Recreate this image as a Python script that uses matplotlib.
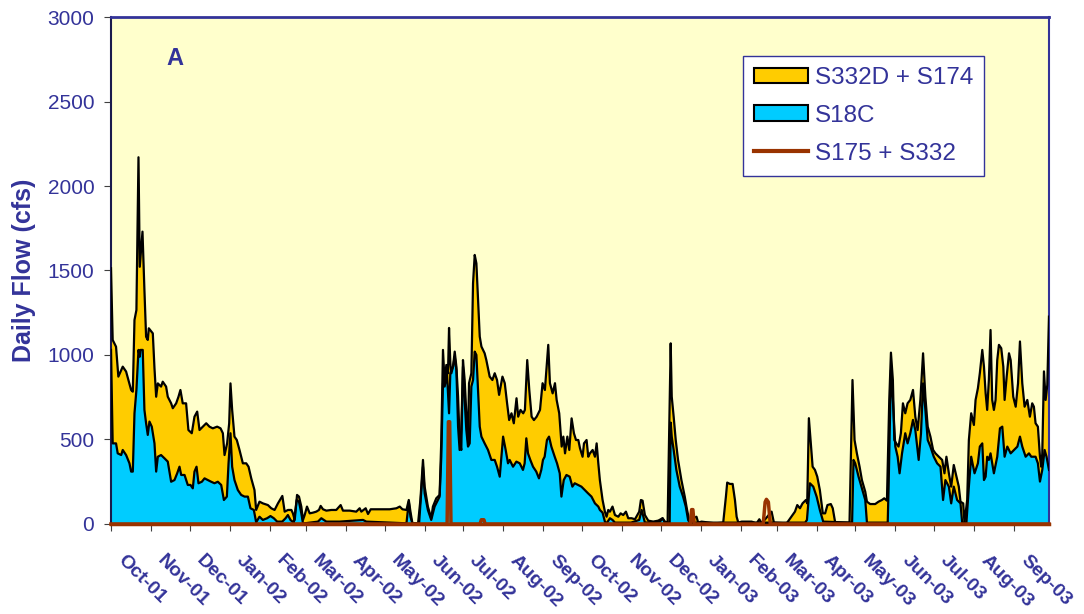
import numpy as np
import pandas as pd
import matplotlib
matplotlib.use("Agg")
import matplotlib.pyplot as plt
from matplotlib.patches import Patch
from matplotlib.lines import Line2D
from matplotlib.transforms import ScaledTranslation

plt.rcParams['font.family'] = ['Liberation Sans', 'DejaVu Sans']

# days counted from 1 Oct 2001, flows in cfs
top_day = [0, 1.3, 3.9, 5.7, 9.1, 11.7, 15.6, 16.9, 18.2, 19.7, 21.3, 22.3, 23.3, 24.4, 25.9, 27.2,
           28.5, 29.3, 32.4, 33.7, 35, 36.3, 38.8, 40.1, 42.7, 44, 46.6, 47.9, 50.5, 52.3, 53.8,
           55.6, 58.2, 60, 62.6, 64.7, 66.8, 68.6, 71.2, 73.8, 76.3, 78.9, 82.3, 84.9, 86.7, 88,
           90, 91.6, 92.6, 93.9, 95.7, 97.5, 99.6, 102.2, 104.8, 106.6, 108.7, 111.2, 112.5,
           115.1, 117.7, 121.6, 124.2, 126.8, 129.4, 132.8, 134.6, 137.2, 139.8, 141, 142.4,
           144.2, 145.7, 147.5, 148.8, 150.1, 151.9, 154, 156.5, 159.1, 161.2, 162.5, 164.3,
           166.9, 170.8, 174.6, 178, 179.8, 185, 190.1, 192.7, 194, 197.4, 199.2, 201.3, 204.4,
           210.9, 216, 221.2, 223.8, 225.9, 229, 230.8, 232.1, 233.6, 238, 239.8, 241.8, 243.1,
           245.6, 248.2, 249.5, 252.1, 254.7, 256, 257.3, 258.6, 259.9, 261.2, 262, 263, 263.8,
           265.1, 266.4, 267.7, 269, 270.2, 271.5, 272.8, 274.1, 275.4, 276.7, 277.5, 279.3,
           280.6, 281.9, 283.2, 284.5, 285.8, 287.1, 289.6, 290.9, 293.5, 295.6, 297.4, 299.2,
           300.8, 303.4, 305.2, 307, 308.6, 310.4, 312.2, 314.3, 315.6, 317.4, 319.5, 320.8,
           322.6, 324.2, 326, 327.8, 329.9, 332.5, 334.5, 336.3, 337.6, 338.9, 340.2, 342.3,
           344.1, 345.4, 347.4, 349.3, 350.6, 351.9, 353.7, 355.2, 357, 358.8, 360.4, 362.2,
           363.5, 365.5, 366.6, 368.6, 369.9, 371.2, 373.3, 375.1, 376.4, 377.7, 378.9, 381,
           382.8, 384.1, 385.4, 386.7, 388.7, 390.6, 393.2, 395, 397, 399.1, 400.9, 403.5, 406.1,
           409.4, 410.7, 412, 413.8, 416.4, 420.3, 424.2, 427.5, 429.3, 431.4, 433.8, 434.6,
           436.1, 437.7, 439.5, 442.1, 444.7, 446.5, 448.1, 453.8, 455.1, 457.7, 464.1, 468,
           474.5, 476.6, 477.6, 479.7, 481.8, 483.6, 484.9, 486.2, 488.8, 492.6, 496.5, 500.4,
           502.5, 504.3, 512, 513.8, 523.7, 530.1, 531.9, 534, 536, 538.6, 539.6, 540.9, 542.2,
           543.8, 545.6, 547.4, 549.4, 551.7, 553.5, 555.3, 557.9, 559.4, 561.3, 572.4, 574.7,
           576.3, 578.1, 580.2, 582, 584.6, 585.9, 588.4, 592.3, 594.9, 597.5, 599.3, 601.4,
           603.2, 604.5, 606, 607.1, 608.6, 610.4, 612.2, 613.8, 615.6, 617.4, 619.5, 621.6,
           623.4, 625.2, 627.3, 629.4, 631.2, 633, 635.1, 637.2, 639, 641.6, 644.2, 646, 647.5,
           649.4, 651.2, 653.2, 655.3, 657.1, 658.4, 660.5, 661.5, 663.6, 664.9, 666.7, 668.8,
           670.1, 671.9, 673.4, 675.3, 676.6, 677.9, 679.1, 680.4, 681.7, 683, 684.3, 685.6,
           686.9, 688.2, 690, 691.6, 692.6, 694.2, 696, 697.3, 699.3, 701.2, 703, 704.5, 706.3,
           708.1, 710.2, 712.2, 714, 715.3, 716.6, 718.4, 720, 721, 721.8, 723.1, 724.4, 725.7,
           727]
top_cfs = [1513, 1089, 1049, 872, 931, 902, 793, 783, 1207, 1266, 2170, 1522, 1621, 1730, 1385, 1108,
           1089, 1158, 1128, 921, 753, 832, 813, 842, 813, 753, 714, 685, 714, 753, 793,
           714, 714, 556, 537, 635, 665, 556, 576, 596, 576, 566, 576, 566, 537, 408,
           477, 596, 832, 675, 517, 497, 438, 359, 359, 339, 270, 201, 83,
           132, 122, 112, 93, 83, 122, 166, 73, 83, 83, 63, 24,
           172, 162, 103, 24, 53, 103, 63, 67, 73, 83, 107, 87,
           79, 83, 83, 112, 79, 79, 73, 93, 73, 93, 59, 87, 87,
           87, 87, 93, 103, 87, 83, 142, 73, 4, 4, 142, 379, 221,
           103, 34, 103, 152, 172, 497, 1030, 833, 941, 892, 1160, 951, 892,
           931, 1020, 931, 753, 497, 438, 970, 852, 655, 497, 833, 892,
           1424, 1592, 1542, 1326, 1109, 1050, 1010, 970, 872, 852, 892, 852,
           764, 872, 833, 714, 615, 655, 596, 744, 635, 675, 655, 675,
           970, 793, 635, 615, 635, 675, 833, 793, 931, 1060, 833, 773,
           833, 734, 655, 458, 517, 418, 517, 438, 625, 537, 497, 497,
           448, 398, 477, 497, 398, 418, 438, 398, 477, 359, 260, 142,
           73, 43, 83, 73, 103, 53, 43, 63, 53, 73, 34, 34, 28,
           73, 142, 138, 53, 20, 14, 20, 34, 14, 8, 1069, 754,
           635, 497, 379, 260, 162, 83, 24, 43, 8, 14, 8, 4,
           8, 162, 245, 237, 237, 142, 43, 8, 14, 14, 14, 4,
           28, 4, 73, 8, 4, 73, 112, 93, 122, 142, 122, 626, 497,
           339, 320, 280, 201, 63, 63, 112, 118, 93, 8, 8, 852,
           497, 418, 339, 260, 191, 132, 118, 118, 132, 142, 152, 138,
           734, 1014, 852, 497, 477, 458, 537, 714, 655, 714, 734, 793,
           635, 556, 734, 1010, 753, 576, 517, 438, 418, 398, 379, 300, 398,
           300, 221, 349, 280, 221, 132, 122, 8, 142, 497, 655, 586,
           734, 803, 892, 1030, 931, 773, 675, 852, 1148, 734, 675, 734,
           970, 1060, 1040, 931, 734, 872, 1010, 970, 753, 694, 832, 1080, 832,
           694, 734, 635, 714, 694, 596, 576, 398, 339, 418, 903, 734, 823,
           1227]

s18c_day = [0, 1.3, 3.9, 5.2, 7.9, 9.1, 11.7, 14.3, 15.6, 16.9, 18.2, 19.7, 21.3, 22.3, 22.8, 24.6,
            25.9, 27.2, 28.5, 29.8, 31.6, 33.7, 35, 36.3, 38.8, 41.4, 44, 46.6, 49.2, 51.3, 53.1,
            54.4, 57, 59.5, 61.6, 63.4, 64.7, 66.3, 67.8, 70.4, 72.5, 75, 77.6, 80.2, 82.8, 85.4,
            87.5, 89.8, 91.1, 92.6, 93.9, 95.7, 98.3, 100.9, 103.5, 106.1, 108.1, 110.7, 112.5,
            115.1, 117.7, 121, 123.6, 126.2, 128.8, 132.7, 135.3, 137.1, 139.1, 141.7, 143.9,
            145.7, 147.5, 148.8, 150.1, 160.4, 163, 166.9, 177.2, 195.3, 197.9, 229, 230.8, 232.1,
            233.6, 238.8, 241.8, 243.1, 245.6, 248.2, 250.8, 254.7, 256, 257.3, 258.6, 260.4,
            262, 263, 265.1, 266.4, 267.7, 269, 270.2, 271.5, 272.8, 274.1, 275.4, 276.7, 278,
            279.3, 280.6, 281.9, 283.2, 284.5, 285.8, 287.1, 289.6, 292.2, 294.8, 297.4, 299.2,
            301.3, 303.9, 305.9, 307.7, 309, 311.6, 314.2, 316.8, 319.3, 320.6, 321.9, 323.2,
            325, 327.1, 329.6, 331.7, 333.5, 334.8, 336.1, 337.9, 339.5, 341.3, 343.9, 345.7,
            347.8, 349.1, 350.9, 353, 355.5, 357.6, 359.4, 362, 364.6, 367.2, 369.8, 372.4,
            375.1, 377.7, 378.9, 381, 382.8, 384.1, 386.7, 388.7, 390.6, 403, 409.4, 411.3,
            412.6, 413.8, 425.5, 427.5, 429.3, 433, 433.8, 434.6, 436.1, 438.2, 440.8, 443.4,
            445.5, 447.3, 448.5, 538, 539.4, 541.7, 544.3, 546.9, 549.4, 552, 574.4, 575.5,
            576.8, 579.4, 582, 584.6, 585.9, 602, 602.7, 604.5, 606, 607.9, 609.7, 611.2, 613.1,
            615.6, 617.4, 619.5, 621.6, 623.4, 626, 627.8, 629.4, 631.2, 633, 635.1, 637.7,
            640.3, 642.9, 644.9, 646.7, 649.4, 651.2, 653.2, 655.8, 658.4, 659.7, 663, 664.9,
            666.7, 669.3, 671.9, 673.4, 675.3, 676.6, 677.9, 679.1, 680.4, 681.7, 684.3, 686.9,
            689, 690.8, 692.6, 694.7, 697.3, 699.9, 702.5, 704.5, 706.3, 708.9, 711.5, 713.3,
            716.6, 718.4, 720, 721.8, 723.6, 725.1, 727]
s18c_cfs = [1030, 477, 477, 418, 408, 438, 408, 359, 310, 310, 655, 793, 1030, 990, 1030, 1030,
            675, 596, 527, 606, 576, 477, 310, 398, 408, 389, 369, 250, 260, 300, 339,
            290, 290, 231, 231, 211, 310, 339, 241, 250, 270, 260, 250, 241, 250, 231,
            142, 162, 359, 537, 339, 260, 201, 172, 162, 162, 93, 83, 10,
            43, 24, 34, 47, 34, 14, 14, 34, 53, 24, 8, 142,
            132, 63, 4, 4, 14, 34, 14, 14, 24, 14, 4, 132, 43,
            4, 4, 339, 181, 83, 24, 103, 162, 398, 833, 813, 892,
            655, 892, 931, 990, 911, 576, 438, 556, 931, 734, 556, 458, 477,
            813, 852, 1020, 1000, 793, 576, 517, 477, 438, 379, 379, 339,
            280, 517, 438, 359, 379, 339, 369, 359, 320, 359, 507, 418,
            379, 339, 310, 270, 320, 379, 398, 497, 517, 458, 398, 359,
            300, 162, 260, 290, 280, 221, 241, 231, 221, 201, 181, 162,
            122, 103, 83, 67, 14, 4, 34, 24, 8, 8, 24, 83,
            43, 8, 14, 34, 8, 8, 600, 517, 438, 320, 221, 162,
            103, 24, 8, 8, 24, 241, 221, 162, 83, 14, 8, 379,
            359, 280, 211, 142, 8, 8, 221, 911, 734, 458, 398, 300, 418,
            537, 477, 537, 616, 556, 379, 537, 832, 675, 497, 458, 398,
            359, 339, 142, 260, 221, 122, 221, 142, 122, 8, 8, 221,
            398, 300, 359, 458, 477, 260, 280, 398, 379, 418, 300, 398,
            566, 576, 398, 458, 418, 438, 458, 517, 458, 398, 418, 398,
            398, 359, 251, 320, 438, 398, 320]

brown_day = [0, 260.5, 261.5, 262.5, 263.5, 286, 287, 289, 290, 449, 450, 451, 452,
             505.5, 507, 508, 509.5, 511, 727]
brown_cfs = [0, 0, 605, 605, 0, 0, 25, 25, 0, 0, 85, 85, 0,
             0, 130, 146, 130, 0, 0]

y_ticks = [0, 500, 1000, 1500, 2000, 2500, 3000]
month_starts = pd.date_range('2001-10-01', '2003-09-01', freq='MS')
month_day = [(d - pd.Timestamp('2001-10-01')).days for d in month_starts]
month_lbl = [d.strftime('%b-%y') for d in month_starts]

navy = '#333399'
fig = plt.figure(figsize=(10.84, 6.14), dpi=100)
ax = fig.add_axes([0.1024, 0.1466, 0.8653, 0.8257])
ax.set_facecolor('#FFFFCC')

ax.fill_between(top_day, top_cfs, color='#FFCC00', lw=0, zorder=1)
ax.fill_between(s18c_day, s18c_cfs, color='#00CCFF', lw=0, zorder=2)
ax.plot(s18c_day, s18c_cfs, color='black', lw=1.6, zorder=3)
ax.plot(top_day, top_cfs, color='black', lw=1.6, zorder=4)
ax.plot(brown_day, brown_cfs, color='#993300', lw=2.5, zorder=5, clip_on=False)

ax.set_xlim(0, 727)
ax.set_ylim(0, 3000)
ax.set_yticks(y_ticks)
ax.tick_params(axis='y', labelsize=15, labelcolor=navy, length=5, color='#404040', pad=7)
ax.set_xticks(month_day)
ax.set_xticklabels(month_lbl, rotation=-45, ha='left', va='top', rotation_mode='anchor',
                   fontsize=14, fontweight='bold', color=navy)
ax.tick_params(axis='x', length=5, color='#404040', pad=15)
for lab in ax.get_xticklabels():
    lab.set_transform(lab.get_transform() + ScaledTranslation(0.15, 0, fig.dpi_scale_trans))

ax.set_ylabel('Daily Flow (cfs)', fontsize=18, fontweight='bold', color=navy)
ax.yaxis.set_label_coords(-0.08, 0.5)

ax.spines['left'].set_color('#1a1a4d')
ax.spines['left'].set_linewidth(1.5)
ax.spines['top'].set_color(navy)
ax.spines['top'].set_linewidth(2)
ax.spines['right'].set_color(navy)
ax.spines['right'].set_linewidth(1.5)
ax.spines['bottom'].set_color('#993300')
ax.spines['bottom'].set_linewidth(2.5)

ax.text(0.059, 0.919, 'A', transform=ax.transAxes, fontsize=17, fontweight='bold',
        color=navy, va='center', ha='left')

handles = [Patch(facecolor='#FFCC00', edgecolor='black', lw=1.5),
           Patch(facecolor='#00CCFF', edgecolor='black', lw=1.5),
           Line2D([], [], color='#993300', lw=3)]
leg = ax.legend(handles, ['S332D + S174', 'S18C', 'S175 + S332'], loc='upper left',
                bbox_to_anchor=(0.674, 0.923), borderaxespad=0, fontsize=17.5,
                labelcolor=navy, fancybox=False, framealpha=1, facecolor='white',
                edgecolor=navy, handlelength=2.2, handleheight=0.6, handletextpad=0.3,
                labelspacing=0.65, borderpad=0.45)
leg.get_frame().set_linewidth(1)

fig.savefig('out.png', dpi=100)
